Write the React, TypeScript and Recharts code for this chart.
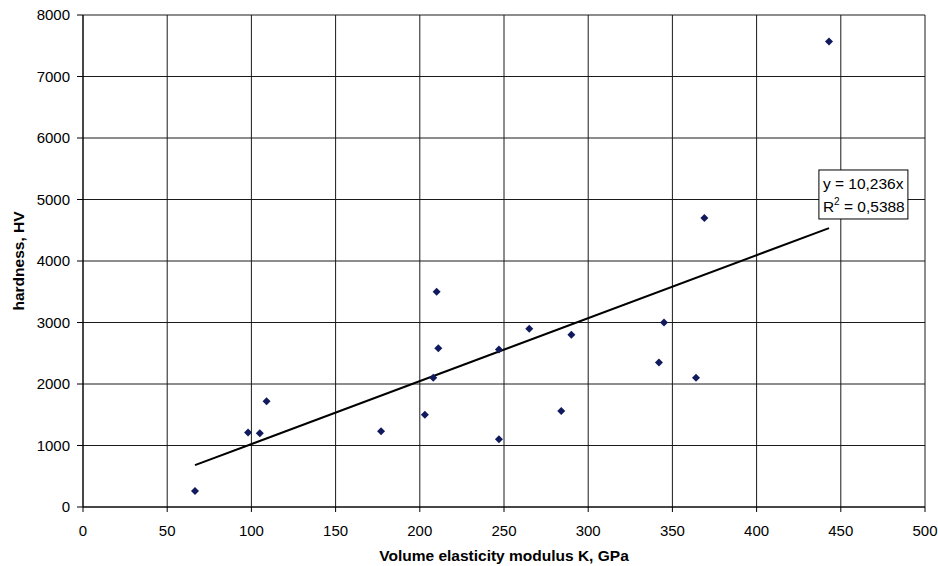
import {
  CartesianGrid,
  ReferenceDot,
  Scatter,
  ScatterChart,
  XAxis,
  YAxis,
} from "recharts";

const modulusK = [66.5, 98, 105, 109, 177, 203, 210, 211, 208, 247, 247, 265, 290, 284, 342, 345, 364, 369, 443];
const hardnessHV = [260, 1210, 1200, 1720, 1230, 1500, 3500, 2580, 2100, 2560, 1100, 2900, 2800, 1560, 2350, 3000, 2100, 4700, 7570];

const xTicks = [0, 50, 100, 150, 200, 250, 300, 350, 400, 450, 500];
const yTicks = [0, 1000, 2000, 3000, 4000, 5000, 6000, 7000, 8000];

const slope = 10.236;
const trendRange = [66.5, 443];
const trendText = ["y = 10,236x", "R", "2", " = 0,5388"];

const points = modulusK.map((x, i) => ({ x, y: hardnessHV[i] }));
const trend = trendRange.map((x) => ({ x, y: slope * x }));

const font = "'Liberation Sans', Arial, sans-serif";

const Diamond = (props: any) => {
  const { cx, cy } = props;
  if (cx == null || cy == null) return null;
  const r = 4;
  return (
    <polygon
      points={`${cx},${cy - r} ${cx + r},${cy} ${cx},${cy + r} ${cx - r},${cy}`}
      fill="#111a5c"
    />
  );
};

const TrendBox = (props: any) => {
  const { cx, cy } = props;
  if (cx == null || cy == null) return null;
  return (
    <g fontFamily={font} fontSize={15.5} fill="#000">
      <rect x={cx} y={cy} width={89} height={49} fill="#fff" stroke="#000" strokeWidth={1} />
      <text x={cx + 4} y={cy + 19}>{trendText[0]}</text>
      <text x={cx + 4} y={cy + 42}>
        {trendText[1]}
        <tspan fontSize={10} dy={-7}>{trendText[2]}</tspan>
        <tspan dy={7}>{trendText[3]}</tspan>
      </text>
    </g>
  );
};

const App = () => {
  return (
    <div style={{ width: 938, height: 566, background: "#fff" }}>
      <style>{"body{margin:0}"}</style>
      <ScatterChart
        width={938}
        height={566}
        margin={{ top: 15, right: 13, bottom: 0, left: 0 }}
      >
        <CartesianGrid stroke="#1a1a1a" strokeWidth={1} />
        <XAxis
          type="number"
          dataKey="x"
          domain={[0, 500]}
          ticks={xTicks}
          interval={0}
          height={59}
          tickSize={5}
          tickMargin={13}
          stroke="#000"
          tick={{ fill: "#000", fontSize: 15, fontFamily: font }}
          label={{
            value: "Volume elasticity modulus K, GPa",
            position: "insideBottom",
            offset: 5,
            style: { fontWeight: "bold", fontSize: 15.5, fontFamily: font, fill: "#000" },
          }}
        />
        <YAxis
          type="number"
          dataKey="y"
          domain={[0, 8000]}
          ticks={yTicks}
          interval={0}
          width={83}
          tickSize={6}
          tickMargin={7}
          stroke="#000"
          tick={{ fill: "#000", fontSize: 15, fontFamily: font }}
          label={{
            value: "hardness, HV",
            angle: -90,
            position: "insideLeft",
            offset: 18,
            style: { fontWeight: "bold", fontSize: 15.5, fontFamily: font, fill: "#000", textAnchor: "middle" },
          }}
        />
        <Scatter
          data={trend}
          line={{ stroke: "#000", strokeWidth: 2 }}
          shape={() => null}
          isAnimationActive={false}
        />
        <Scatter data={points} shape={<Diamond />} isAnimationActive={false} />
        <ReferenceDot x={437} y={5480} shape={<TrendBox />} ifOverflow="visible" />
      </ScatterChart>
    </div>
  );
};

export default App;
